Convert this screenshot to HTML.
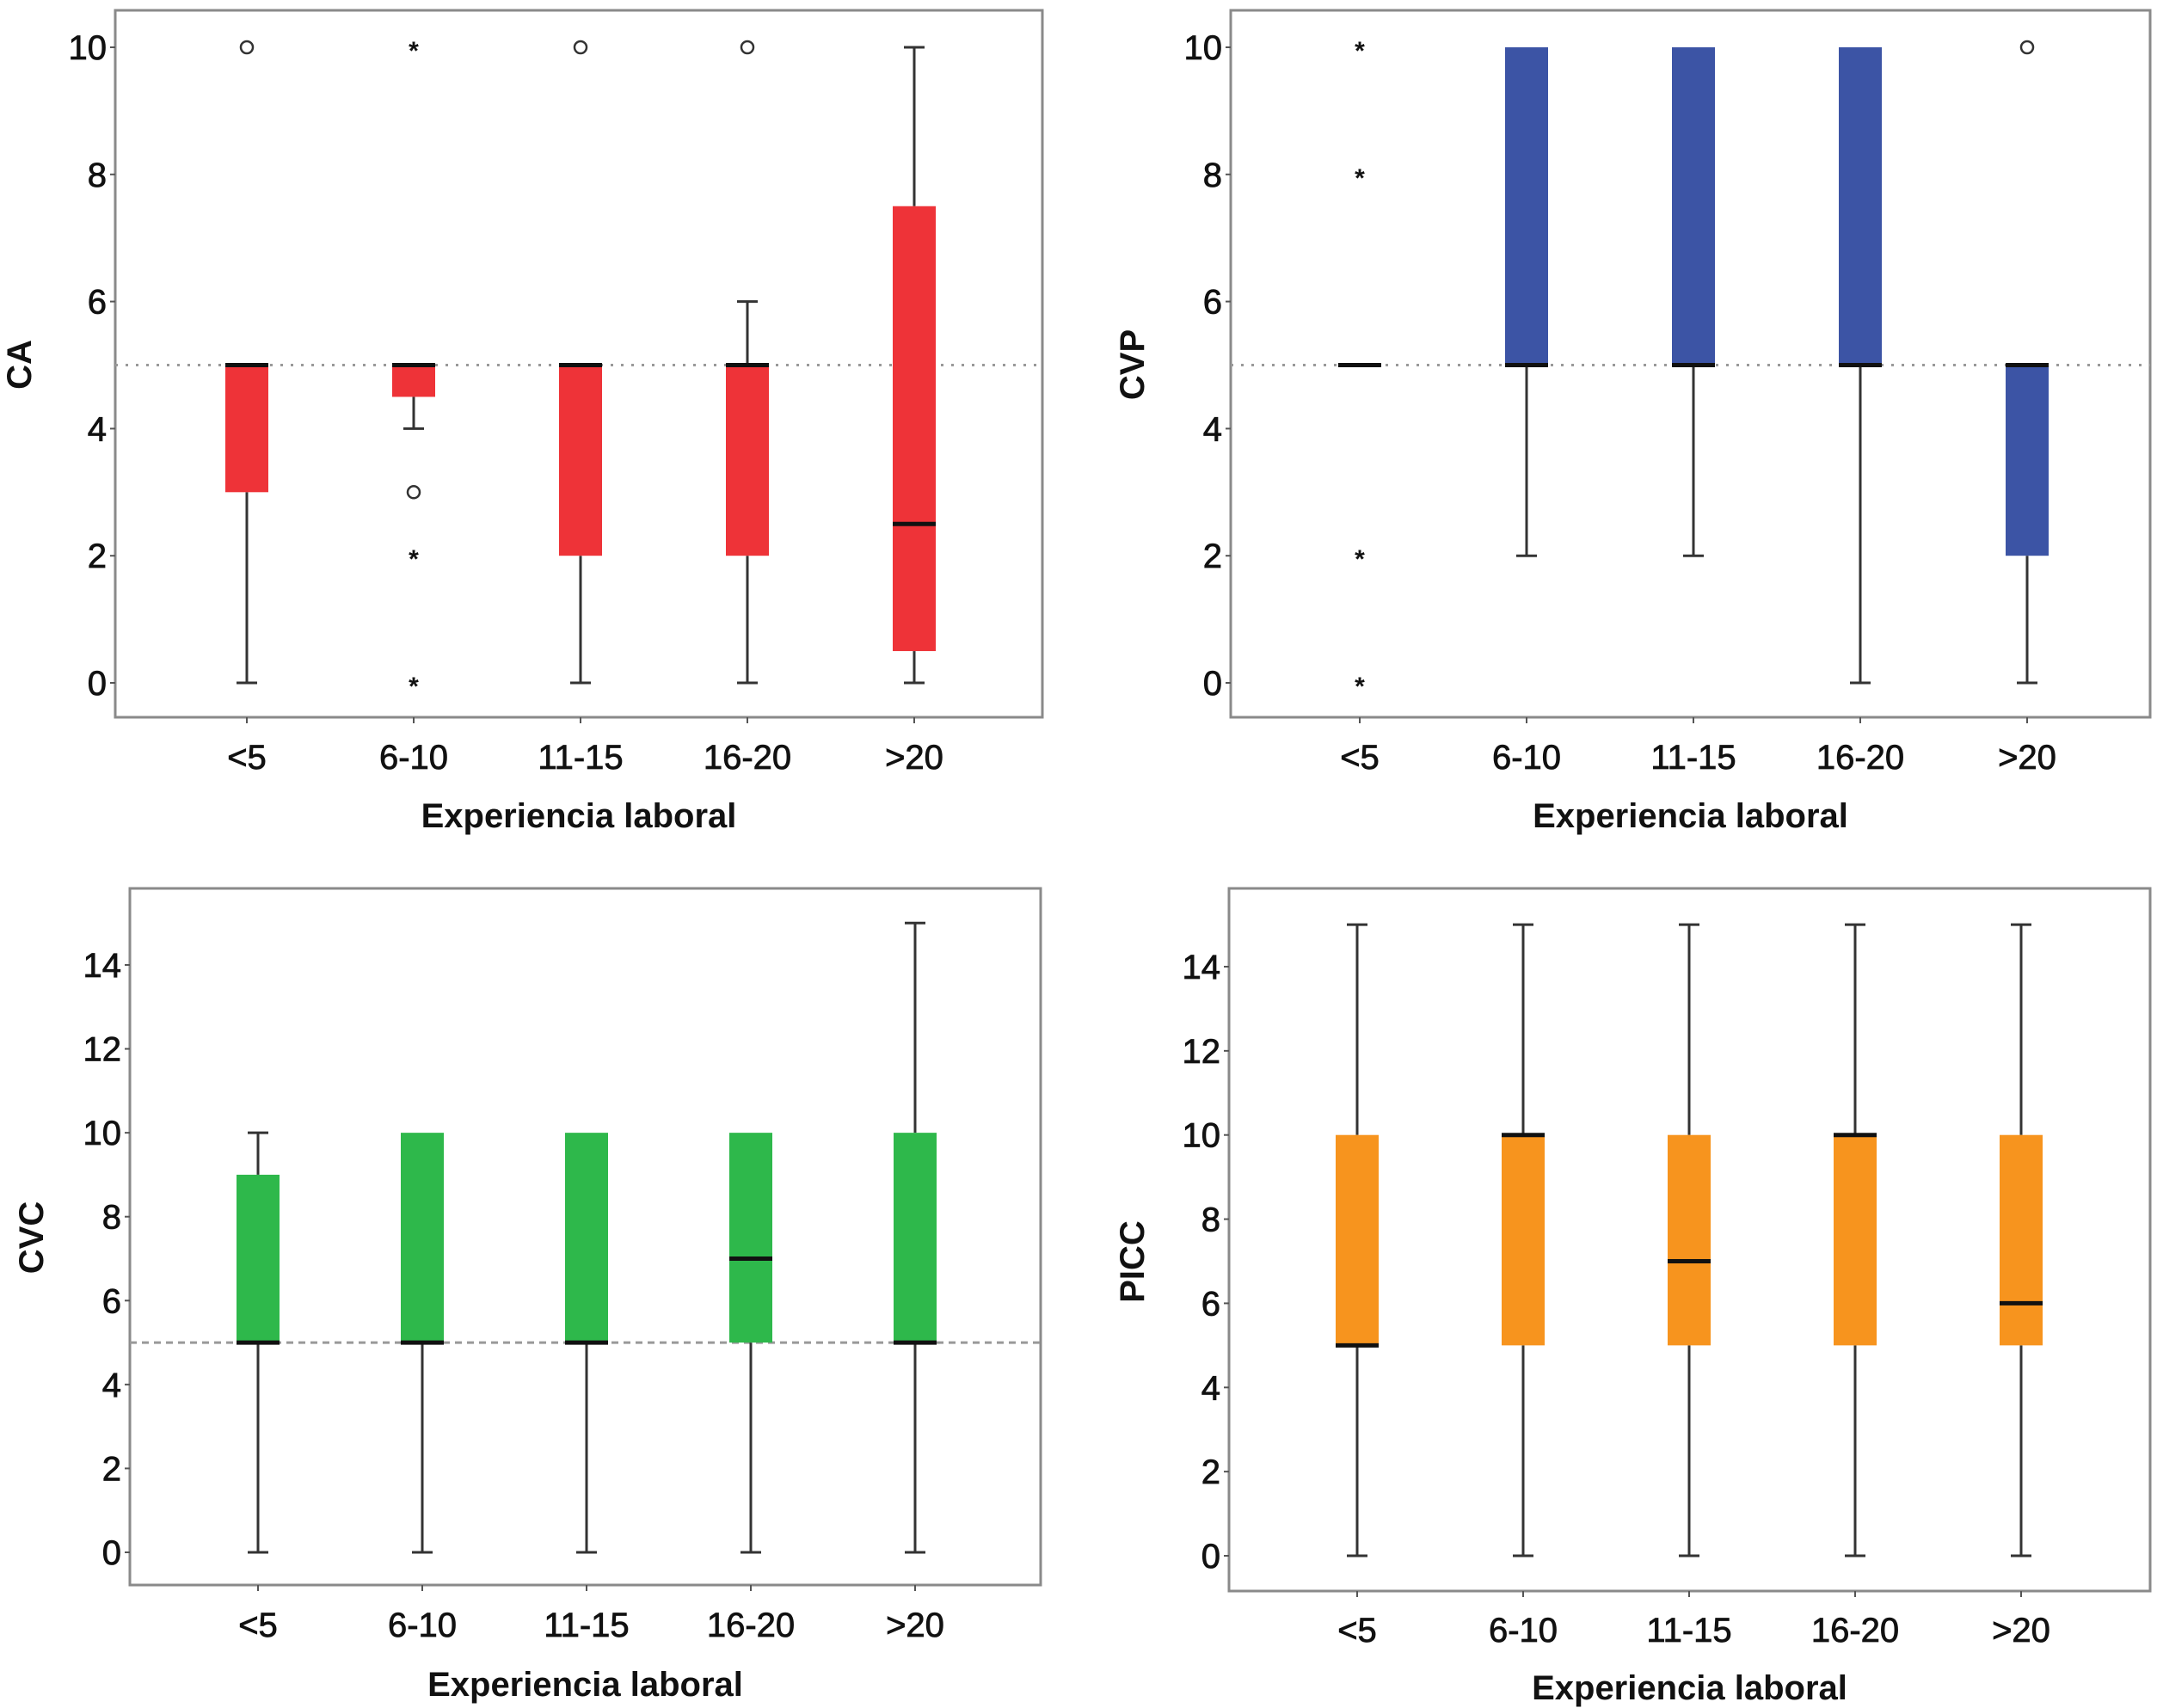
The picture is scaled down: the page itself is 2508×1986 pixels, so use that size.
<!DOCTYPE html>
<html><head><meta charset="utf-8"><style>
html,body{margin:0;padding:0;background:#fff}
svg{display:block}
text{font-family:"Liberation Sans",sans-serif;fill:#111}
</style></head><body>
<svg id="root" width="2508" height="1986" viewBox="0 0 2508 1986" xmlns="http://www.w3.org/2000/svg"></svg>
<script>
const categories = ["<5","6-10","11-15","16-20",">20"];
// CA
const caQ1 = [3,4.5,2,2,0.5];
const caQ3 = [5,5,5,5,7.5];
const caMed = [5,5,5,5,2.5];
const caLo = [0,4,0,0,0];
const caHi = [5,5,5,6,10];
const caOutliers = [[10,"o"],[10,"*"],[3,"o"],[2,"*"],[0,"*"],[10,"o"],[10,"o"]];
const caOutCat = [0,1,1,1,1,2,3];
// CVP
const cvpQ1 = [5,5,5,5,2];
const cvpQ3 = [5,10,10,10,5];
const cvpMed = [5,5,5,5,5];
const cvpLo = [5,2,2,0,0];
const cvpHi = [5,10,10,10,5];
const cvpOutliers = [[10,"*"],[8,"*"],[2,"*"],[0,"*"],[10,"o"]];
const cvpOutCat = [0,0,0,0,4];
// CVC
const cvcQ1 = [5,5,5,5,5];
const cvcQ3 = [9,10,10,10,10];
const cvcMed = [5,5,5,7,5];
const cvcLo = [0,0,0,0,0];
const cvcHi = [10,10,10,10,15];
// PICC
const piccQ1 = [5,5,5,5,5];
const piccQ3 = [10,10,10,10,10];
const piccMed = [5,10,7,10,6];
const piccLo = [0,0,0,0,0];
const piccHi = [15,15,15,15,15];
const ticks10 = [0,2,4,6,8,10];
const ticks14 = [0,2,4,6,8,10,12,14];

const NS="http://www.w3.org/2000/svg";
const root=document.getElementById('root');
function mk(tag,attrs,parent){const e=document.createElementNS(NS,tag);for(const k in attrs)e.setAttribute(k,attrs[k]);(parent||root).appendChild(e);return e;}

function panel(p){
  const g=mk('g',{});
  
  
  const y=v=>p.y0+(p.yRef-p.y0)*v/p.refVal;
  const x=i=>p.cx0+i*p.step;
  const fr=mk('rect',{x:p.fl,y:p.ft,width:p.fr-p.fl,height:p.fb-p.ft,fill:'none',stroke:'#8a8a8a','stroke-width':3},g);
  
  
  p.ticks.forEach(t=>{
    mk('line',{x1:p.fl-6,x2:p.fl,y1:y(t),y2:y(t),stroke:'#555','stroke-width':2},g);
    const tx=mk('text',{x:p.fl-10,y:y(t)+14,'text-anchor':'end','font-size':40,stroke:'#111','stroke-width':0.8},g);
    tx.textContent=t;
    
    
  });
  categories.forEach((c,i)=>{
    mk('line',{x1:x(i),x2:x(i),y1:p.fb,y2:p.fb+7,stroke:'#555','stroke-width':2},g);
    const tx=mk('text',{x:x(i),y:p.xl,'text-anchor':'middle','font-size':40,stroke:'#111','stroke-width':0.8},g);
    tx.textContent=c;
    
    
  });
  const xt=mk('text',{x:(p.fl+p.fr)/2,y:p.xt,'text-anchor':'middle','font-size':40,'font-weight':'bold'},g);
  xt.textContent='Experiencia laboral';
  
  
  const yt=mk('text',{x:0,y:0,'text-anchor':'middle','font-size':40,'font-weight':'bold',transform:`translate(${p.ytx},${p.yty}) rotate(-90)`},g);
  yt.textContent=p.title;
  
  
  if(p.refLine){
    const rl=mk('line',{x1:p.fl,x2:p.fr,y1:y(5),y2:y(5),stroke:'#999','stroke-width':3,'stroke-dasharray':p.refLine},g);
    
    
  }
  const hw=25,cw=12;
  categories.forEach((c,i)=>{
    const cx=x(i);
    if(p.lo[i]<p.q1[i]){
      mk('line',{x1:cx,x2:cx,y1:y(p.q1[i]),y2:y(p.lo[i]),stroke:'#333','stroke-width':3},g);
      mk('line',{x1:cx-cw,x2:cx+cw,y1:y(p.lo[i]),y2:y(p.lo[i]),stroke:'#333','stroke-width':3},g);
    }
    if(p.hi[i]>p.q3[i]){
      mk('line',{x1:cx,x2:cx,y1:y(p.q3[i]),y2:y(p.hi[i]),stroke:'#333','stroke-width':3},g);
      mk('line',{x1:cx-cw,x2:cx+cw,y1:y(p.hi[i]),y2:y(p.hi[i]),stroke:'#333','stroke-width':3},g);
    }
    const h=y(p.q1[i])-y(p.q3[i]);
    if(h>0){
      const b=mk('rect',{x:cx-hw,y:y(p.q3[i]),width:hw*2,height:h,fill:p.color},g);
      
      
    }
    const m=mk('line',{x1:cx-hw,x2:cx+hw,y1:y(p.med[i]),y2:y(p.med[i]),stroke:'#111','stroke-width':5},g);
    
    
  });
  (p.out||[]).forEach((o,k)=>{
    const cx=x(p.outCat[k]),cy=y(o[0]);
    if(o[1]==='o'){
      const c=mk('circle',{cx:cx,cy:cy,r:7,fill:'none',stroke:'#333','stroke-width':2.5},g);
      
      
    } else {
      const s=mk('text',{x:cx,y:cy+14,'text-anchor':'middle','font-size':30,'font-weight':'bold'},g);
      s.textContent='*';
      
      
    }
  });
}
panel({id:'ca',title:'CA',fl:134,fr:1212,ft:12,fb:834,y0:794,yRef:55,refVal:10,cx0:287,step:194,ticks:ticks10,xl:894,xt:962,ytx:36,yty:424,
  q1:caQ1,q3:caQ3,med:caMed,lo:caLo,hi:caHi,out:caOutliers,outCat:caOutCat,color:'#ee3338',refLine:'3 9'});
panel({id:'cvp',title:'CVP',fl:1431,fr:2500,ft:12,fb:834,y0:794,yRef:55,refVal:10,cx0:1581,step:194,ticks:ticks10,xl:894,xt:962,ytx:1330,yty:424,
  q1:cvpQ1,q3:cvpQ3,med:cvpMed,lo:cvpLo,hi:cvpHi,out:cvpOutliers,outCat:cvpOutCat,color:'#3c54a5',refLine:'3 9'});
panel({id:'cvc',title:'CVC',fl:151,fr:1210,ft:1033,fb:1843,y0:1805,yRef:1122,refVal:14,cx0:300,step:191,ticks:ticks14,xl:1903,xt:1972,ytx:50,yty:1439,
  q1:cvcQ1,q3:cvcQ3,med:cvcMed,lo:cvcLo,hi:cvcHi,color:'#2eb84b',refLine:'8 6'});
panel({id:'picc',title:'PICC',fl:1429,fr:2500,ft:1033,fb:1850,y0:1809,yRef:1124,refVal:14,cx0:1578,step:193,ticks:ticks14,xl:1909,xt:1976,ytx:1330,yty:1467,
  q1:piccQ1,q3:piccQ3,med:piccMed,lo:piccLo,hi:piccHi,color:'#f7941e'});
</script>
</body></html>
